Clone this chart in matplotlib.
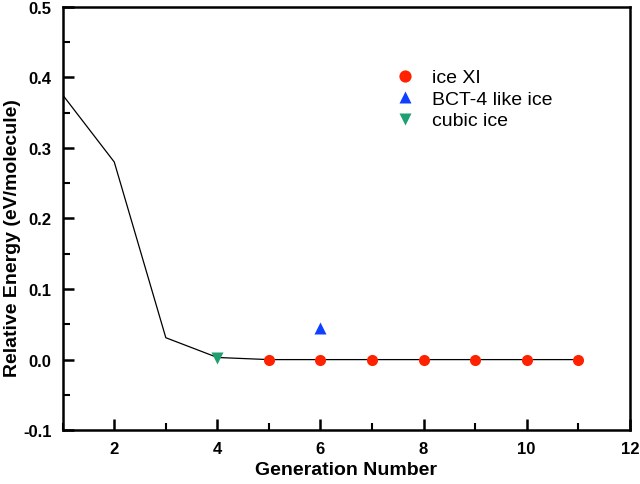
import matplotlib
matplotlib.use("Agg")
import matplotlib.pyplot as plt
from matplotlib.ticker import MultipleLocator

plt.rcParams['font.family'] = ['Liberation Sans', 'DejaVu Sans']

# energy trace per generation
gen = [1, 2, 3, 4, 5, 6, 7, 8, 9, 10, 11]
energy = [0.375, 0.280, 0.031, 0.003, 0.0, 0.0, 0.0, 0.0, 0.0, 0.0, 0.0]

# structures found
ice11_x = [5, 6, 7, 8, 9, 10, 11]
ice11_y = [0.0, 0.0, 0.0, 0.0, 0.0, 0.0, 0.0]
bct4_x = [6]
bct4_y = [0.045]
cubic_x = [4]
cubic_y = [0.002]

fig = plt.figure(figsize=(6.4, 4.85), dpi=100)
ax = fig.add_axes([0.098, 0.111, 0.886, 0.873])

ax.plot(gen, energy, color='black', lw=0.9)
ax.plot(ice11_x, ice11_y, 'o', color='#ff2200', ms=8, mec='none', label='ice XI')
ax.plot(bct4_x, bct4_y, '^', color='#1040ff', ms=8, mec='none', label='BCT-4 like ice')
ax.plot(cubic_x, cubic_y, 'v', color='#20a070', ms=8, mec='none', label='cubic ice')

ax.set_xlim(1, 12)
ax.set_ylim(-0.1, 0.5)
ax.xaxis.set_minor_locator(MultipleLocator(1))
ax.yaxis.set_minor_locator(MultipleLocator(0.05))
ax.set_yticks([-0.1, 0.0, 0.1, 0.2, 0.3, 0.4, 0.5])
ax.set_yticklabels(['-0.1', '0.0', '0.1', '0.2', '0.3', '0.4', '0.5'])
ax.set_xticks([2, 4, 6, 8, 10, 12])

ax.tick_params(which='major', direction='in', length=8, width=1.8, labelsize=12, pad=8)
ax.tick_params(which='minor', direction='in', length=5, width=1.5)
for lab in ax.get_xticklabels() + ax.get_yticklabels():
    lab.set_fontweight('bold')
for s in ax.spines.values():
    s.set_linewidth(1.8)

ax.set_xlabel('Generation Number', fontsize=14, fontweight='bold')
ax.set_ylabel('Relative Energy (eV/molecule)', fontsize=14, fontweight='bold')
ax.xaxis.set_label_coords(0.5, -0.074)
ax.yaxis.set_label_coords(-0.074, 0.455)

ax.legend(loc='upper left', bbox_to_anchor=(0.548, 0.895), frameon=False, fontsize=14,
          handletextpad=0.7, labelspacing=0.2, handlelength=1.4, markerscale=1.1)

fig.savefig('out.png', dpi=100)
